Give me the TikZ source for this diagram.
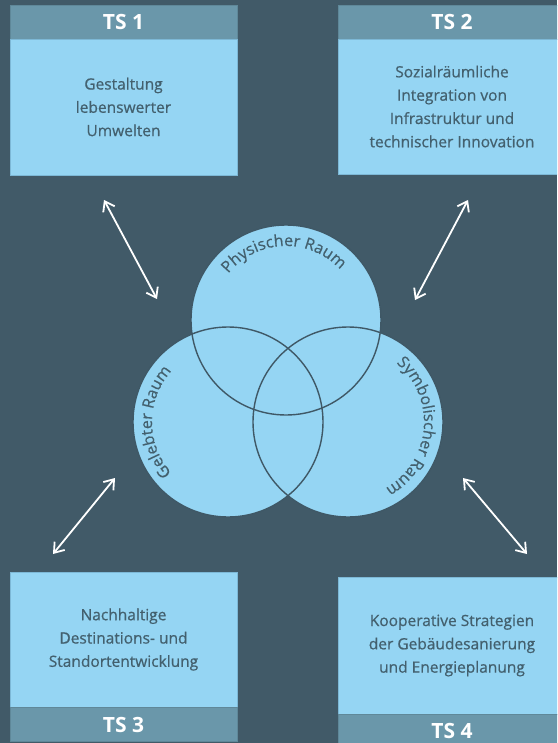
\documentclass[tikz,border=0pt]{standalone}
\usepackage{fontspec}
\setmainfont{Open Sans}
\usetikzlibrary{arrows.meta,decorations.text}
\definecolor{bg}{HTML}{415A68}
\definecolor{hdr}{HTML}{6A97AA}
\definecolor{bodyc}{HTML}{95D5F3}
\definecolor{txt}{HTML}{43606E}
\definecolor{ring}{HTML}{3F5866}
\definecolor{edge}{HTML}{7DB8D6}
\tikzset{
  hdrbox/.style={fill=hdr, draw=hdr!90!black, line width=0.6pt, minimum width=227pt, minimum height=34pt, inner sep=0pt, text=white, font=\bfseries\fontsize{21}{24}\selectfont},
  bodybox/.style={fill=bodyc, draw=edge, line width=0.8pt, minimum width=227pt, inner sep=0pt, text=txt, align=center, font=\fontsize{15.5}{23.3}\selectfont\addfontfeatures{FakeBold=0.7}},
  link/.style={draw=white, line width=1.8pt, {Straight Barb[length=9pt,width=13pt,line width=1.8pt]}-{Straight Barb[length=9pt,width=13pt,line width=1.8pt]}},
  venn/.style={fill=bodyc},
  vennline/.style={draw=ring, line width=1.4pt},
  arctext/.style={decorate, decoration={text along path, text align=center, text={|\fontsize{16}{18}\selectfont\addfontfeatures{FakeBold=0.5}\color{txt}|#1}}}
}
\begin{document}
\begin{tikzpicture}[x=1pt,y=-1pt]
\useasboundingbox (0,0) rectangle (557,743);
\clip (0,0) rectangle (557,743);
\fill[bg] (0,0) rectangle (557,743);
% boxes
\node[hdrbox] (h1) at (123.5,22) {TS 1};
\node[bodybox, minimum height=136pt] (b1) at (123.5,107) {Gestaltung\\lebenswerter\\Umwelten};
\node[hdrbox] (h2) at (452,22) {TS 2};
\node[bodybox, minimum height=135pt] (b2) at (452,106.5) {Sozialräumliche\\Integration von\\Infrastruktur und\\technischer Innovation};
\node[bodybox, minimum height=135pt] (b3) at (123.5,639.5) {Nachhaltige\\Destinations- und\\Standortentwicklung};
\node[hdrbox] (h3) at (123.5,724.5) {TS 3};
\node[bodybox, minimum height=137pt] (b4) at (452,645.5) {Kooperative Strategien\\der Gebäudesanierung\\und Energieplanung};
\node[hdrbox] (h4) at (452,731) {TS 4};
% venn
\coordinate (cp) at (286,320);
\coordinate (cg) at (228,422);
\coordinate (cs) at (348,422);
\fill[venn] (cp) circle (95);
\fill[venn] (cg) circle (95);
\fill[venn] (cs) circle (95);
\draw[vennline] (cp) circle (95);
\draw[vennline] (cg) circle (95);
\draw[vennline] (cs) circle (95);
\path[arctext={Physischer Raum}] ([shift={(-160:74)}]cp) arc[start angle=-160, end angle=-24, radius=74];
\path[arctext={Gelebter Raum}] ([shift={(-235:76)}]cg) arc[start angle=-235, end angle=-125, radius=76];
\path[arctext={Symbolischer Raum}] ([shift={(-62:76)}]cs) arc[start angle=-62, end angle=72, radius=76];
% arrows
\coordinate (a1s) at (104,200); \coordinate (a1e) at (157,299);
\coordinate (a2s) at (468,200); \coordinate (a2e) at (415,300);
\coordinate (a3s) at (115,478); \coordinate (a3e) at (53,554);
\coordinate (a4s) at (463,478); \coordinate (a4e) at (527,554);
\draw[link] (a1s) -- (a1e);
\draw[link] (a2s) -- (a2e);
\draw[link] (a3s) -- (a3e);
\draw[link] (a4s) -- (a4e);
\end{tikzpicture}
\end{document}
